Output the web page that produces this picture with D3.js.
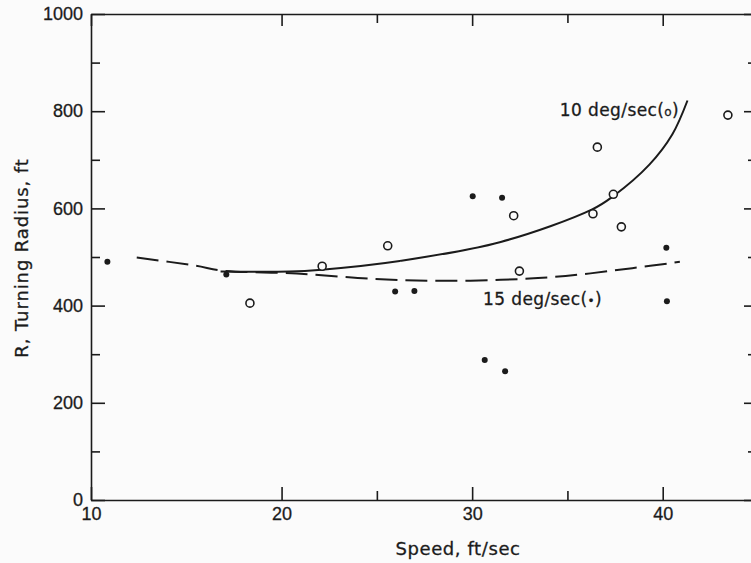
<!DOCTYPE html>
<html>
<head>
<meta charset="utf-8">
<script src="https://cdn.jsdelivr.net/npm/d3@7"></script>
<style>
  body { margin: 0; background: #fbfbfb; }
  svg { display: block; background: #fbfbfb; font-family: "DejaVu Sans", sans-serif; }
  .axis path, .axis line { stroke: #1b1b1b; stroke-width: 1.6; }
  .axis text { fill: #1b1b1b; font-size: 18px; stroke: #1b1b1b; stroke-width: 0.3; }
  .lbl { stroke: #1b1b1b; stroke-width: 0.3; }
</style>
</head>
<body>
<svg class="chart" width="751" height="563"></svg>
<script>
// Open circles: 10 deg/sec runs
const openSpeed = [18.34, 22.13, 25.57, 32.18, 32.48, 36.34, 36.57, 37.41, 37.83, 43.42];
const openRadius = [405, 481, 523, 585, 471, 589, 726, 629, 562, 792];

// Filled dots: 15 deg/sec runs
const dotSpeed = [10.86, 17.1, 25.96, 26.97, 30.03, 30.66, 31.57, 31.73, 40.19, 40.22];
const dotRadius = [490, 464, 429, 430, 625, 288, 622, 265, 519, 409];

// faired curves
const curve10Speed = [16.8, 20.4, 22.1, 26.2, 31.5, 36.3, 37.4, 39.3, 40.5, 41.3];
const curve10Radius = [470, 470, 474, 492, 531, 598, 625, 690, 752, 822];
const curve15Speed = [12.4, 15.5, 16.9, 20.8, 24.8, 27.8, 31.5, 34.9, 38.4, 40.9];
const curve15Radius = [499, 482, 472, 466, 455, 451, 453, 461, 477, 490];

// ticks
const xMajor = [10, 20, 30, 40];
const xMinor = [25, 35];
const yMajor = [0, 200, 400, 600, 800, 1000];
const yMinor = [100, 300, 500, 700, 900];

const svg = d3.select('.chart');
const ink = '#1b1b1b';

// scales (right frame sits just past the window edge)
var x = d3.scaleLinear().domain([10, 45]).range([91, 758]);
var y = d3.scaleLinear().domain([0, 1000]).range([500, 14]);

//left axis with labels
svg.append('g')
    .attr('class', 'axis')
    .attr('transform', 'translate(91,0)')
    .call(d3.axisLeft(y).tickValues(yMajor).tickSizeInner(-14).tickSizeOuter(0).tickPadding(8).tickFormat(d3.format('d')));
svg.append('g')
    .attr('class', 'axis')
    .attr('transform', 'translate(91,0)')
    .call(d3.axisLeft(y).tickValues(yMinor).tickSizeInner(-9).tickFormat(''))
    .select('.domain').remove();

//right axis, ticks only
svg.append('g')
    .attr('class', 'axis')
    .attr('transform', 'translate(758,0)')
    .call(d3.axisRight(y).tickValues(yMajor).tickSizeInner(-14).tickSizeOuter(0).tickFormat(''));
svg.append('g')
    .attr('class', 'axis')
    .attr('transform', 'translate(758,0)')
    .call(d3.axisRight(y).tickValues(yMinor).tickSizeInner(-10).tickFormat(''))
    .select('.domain').remove();

//bottom axis
svg.append('g')
    .attr('class', 'axis')
    .attr('transform', 'translate(0,500)')
    .call(d3.axisBottom(x).tickValues(xMajor).tickSizeInner(-13).tickSizeOuter(0).tickPadding(7));
svg.append('g')
    .attr('class', 'axis')
    .attr('transform', 'translate(0,500)')
    .call(d3.axisBottom(x).tickValues(xMinor).tickSizeInner(-9).tickFormat(''))
    .select('.domain').remove();

//top axis
svg.append('g')
    .attr('class', 'axis')
    .attr('transform', 'translate(0,14)')
    .call(d3.axisTop(x).tickValues(xMajor).tickSizeInner(-12).tickSizeOuter(0).tickFormat(''));
svg.append('g')
    .attr('class', 'axis')
    .attr('transform', 'translate(0,14)')
    .call(d3.axisTop(x).tickValues(xMinor).tickSizeInner(-9).tickFormat(''))
    .select('.domain').remove();

// axis titles
svg.append('text')
    .attr('class', 'lbl')
    .attr('x', 458).attr('y', 555)
    .attr('text-anchor', 'middle')
    .attr('font-size', 18)
    .attr('letter-spacing', 0.6)
    .attr('fill', ink)
    .text('Speed, ft/sec');

svg.append('text')
    .attr('class', 'lbl')
    .attr('transform', 'translate(28,258) rotate(-90)')
    .attr('text-anchor', 'middle')
    .attr('font-size', 18)
    .attr('letter-spacing', 0.9)
    .attr('fill', ink)
    .text('R, Turning Radius, ft');

// curves
var line = d3.line()
    .x(d => x(d[0]))
    .y(d => y(d[1]))
    .curve(d3.curveCatmullRom.alpha(0.5));

svg.append('path')
    .datum(d3.zip(curve10Speed, curve10Radius))
    .attr('d', line)
    .attr('fill', 'none')
    .attr('stroke', ink)
    .attr('stroke-width', 2);

svg.append('path')
    .datum(d3.zip(curve15Speed, curve15Radius))
    .attr('d', line)
    .attr('fill', 'none')
    .attr('stroke', ink)
    .attr('stroke-width', 2)
    .attr('stroke-dasharray', '22,8');

// points
svg.selectAll('.open')
    .data(d3.zip(openSpeed, openRadius))
    .enter().append('circle')
    .attr('class', 'open')
    .attr('cx', d => x(d[0]))
    .attr('cy', d => y(d[1]))
    .attr('r', 4)
    .attr('fill', '#fbfbfb')
    .attr('stroke', ink)
    .attr('stroke-width', 1.6);

svg.selectAll('.dot')
    .data(d3.zip(dotSpeed, dotRadius))
    .enter().append('circle')
    .attr('class', 'dot')
    .attr('cx', d => x(d[0]))
    .attr('cy', d => y(d[1]))
    .attr('r', 3)
    .attr('fill', ink);

// curve labels
var t10 = svg.append('text')
    .attr('class', 'lbl')
    .attr('x', x(34.6)).attr('y', y(790))
    .attr('font-size', 17)
    .attr('letter-spacing', 0.4)
    .attr('fill', ink);
t10.append('tspan').text('10 deg/sec(');
t10.append('tspan').attr('font-size', 12).text('o');
t10.append('tspan').text(')');

var t15 = svg.append('text')
    .attr('class', 'lbl')
    .attr('x', x(30.57)).attr('y', y(401))
    .attr('font-size', 17)
    .attr('letter-spacing', 0.4)
    .attr('fill', ink);
t15.append('tspan').text('15 deg/sec(');
t15.append('tspan').attr('font-size', 12).text('•');
t15.append('tspan').text(')');
</script>
</body>
</html>
